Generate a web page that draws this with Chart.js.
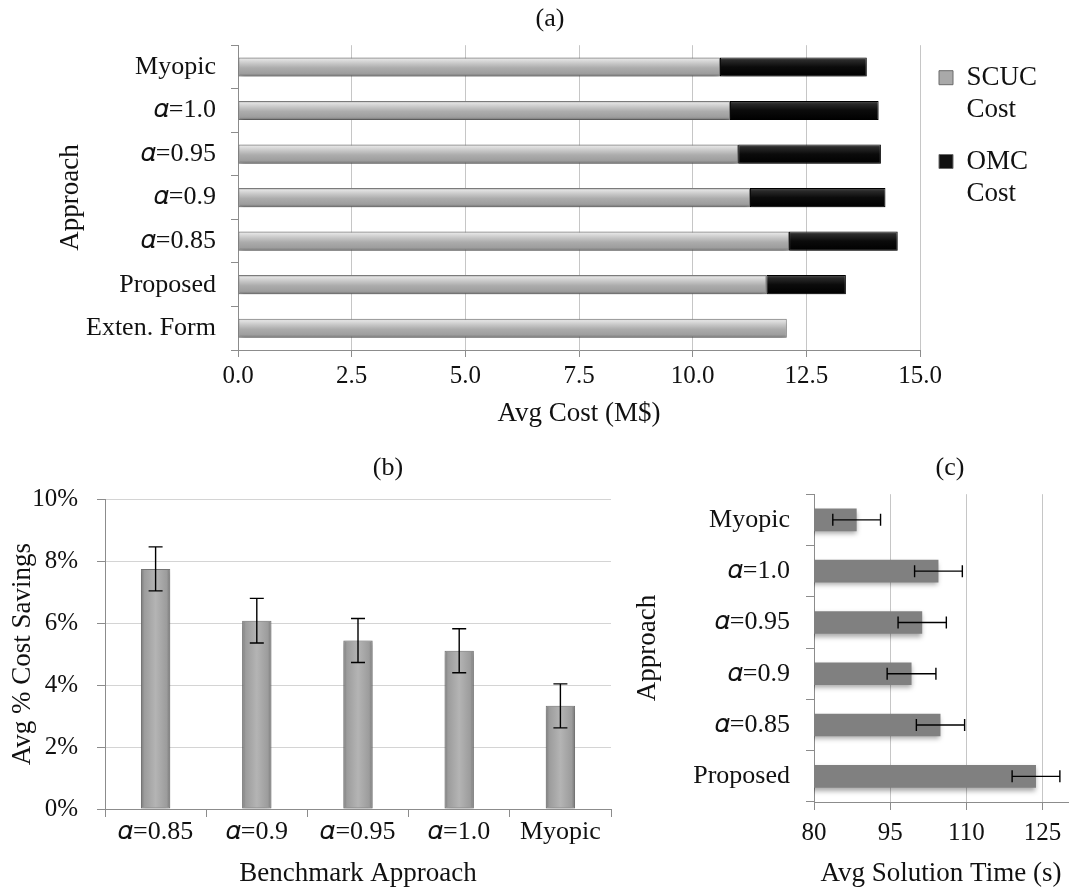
<!DOCTYPE html>
<html><head><meta charset="utf-8">
<script src="https://cdn.jsdelivr.net/npm/chart.js@4.4.1/dist/chart.umd.min.js"></script>
<style>
html,body{margin:0;padding:0;background:#fff;}
body{width:1073px;height:890px;position:relative;overflow:hidden;}
canvas{position:absolute;display:block;}
#ca{left:0;top:0;}
#cb{left:0;top:440px;}
#cc{left:620px;top:440px;}
</style></head><body>
<canvas id="ca" width="1073" height="440"></canvas>
<canvas id="cb" width="620" height="450"></canvas>
<canvas id="cc" width="453" height="450"></canvas>
<script>
// ---------- data ----------
const costCategories = ['Myopic', '𝛼=1.0', '𝛼=0.95', '𝛼=0.9', '𝛼=0.85', 'Proposed', 'Exten. Form'];
const scucCost = [10.6, 10.82, 11.0, 11.26, 12.12, 11.62, 12.07];
const omcCost  = [3.23, 3.27, 3.14, 2.98, 2.39, 1.75, 0];
const costSeriesNames = ['SCUC Cost', 'OMC Cost'];

const savingsCategories = ['𝛼=0.85', '𝛼=0.9', '𝛼=0.95', '𝛼=1.0', 'Myopic'];
const savingsPct = [7.75, 6.08, 5.44, 5.11, 3.33];
const savingsErr = [0.71, 0.72, 0.71, 0.71, 0.71];

const timeCategories = ['Myopic', '𝛼=1.0', '𝛼=0.95', '𝛼=0.9', '𝛼=0.85', 'Proposed'];
const solveTime = [88.4, 104.5, 101.3, 99.2, 104.9, 123.7];
const solveTimeErr = [4.7, 4.7, 4.75, 4.8, 4.75, 4.7];
const timeTicks = [80, 95, 110, 125];

// ---------- style ----------
const FONT = "'Liberation Serif', 'Times New Roman', 'DejaVu Serif', serif";
Chart.defaults.font.family = FONT;
Chart.defaults.font.size = 25;
Chart.defaults.color = '#111';
const AXIS = '#8c8c8c';
const GRID = '#c6c6c6';
const CAT_FONT = { size: 26 };
const NUM_FONT = { size: 25 };
const AX_TITLE_FONT = { size: 27 };
const PLOT_TITLE_FONT = { size: 26, weight: 'normal' };
const LEGEND_WIDTH = 153;

function shadowPlugin(blur, offY, color) {
  return {
    id: 'barShadow',
    beforeDatasetsDraw(chart) {
      const c = chart.ctx; c.save();
      c.shadowColor = color; c.shadowBlur = blur; c.shadowOffsetX = 0; c.shadowOffsetY = offY;
    },
    afterDatasetsDraw(chart) { chart.ctx.restore(); }
  };
}
function titleShiftPlugin(dx) {
  return {
    id: 'titleShift',
    afterLayout(chart) {
      const t = chart.titleBlock, ca = chart.chartArea;
      if (!t || !ca) return;
      const w = t.right - t.left;
      const c = (ca.left + ca.right) / 2 + dx;
      t.left = c - w / 2; t.right = c + w / 2;
    }
  };
}
const legendWidthPlugin = {
  id: 'legendWidth',
  beforeLayout(chart) {
    const lg = chart.legend;
    if (lg && !lg._wPatched) {
      const orig = lg.fit.bind(lg);
      lg.fit = function () { orig(); this.width = Math.max(this.width, LEGEND_WIDTH); };
      lg._wPatched = true;
    }
  }
};
function errorBarPlugin(values, errors, horizontal, cap) {
  return {
    id: 'errorBars',
    afterDatasetsDraw(chart) {
      const c = chart.ctx;
      const cat = horizontal ? chart.scales.y : chart.scales.x;
      const val = horizontal ? chart.scales.x : chart.scales.y;
      c.save(); c.strokeStyle = '#000'; c.lineWidth = 1.4;
      values.forEach((v, i) => {
        const p = cat.getPixelForValue(i);
        const a = val.getPixelForValue(v - errors[i]);
        const b = val.getPixelForValue(v + errors[i]);
        c.beginPath();
        if (horizontal) {
          c.moveTo(a, p); c.lineTo(b, p);
          c.moveTo(a, p - cap); c.lineTo(a, p + cap);
          c.moveTo(b, p - cap); c.lineTo(b, p + cap);
        } else {
          c.moveTo(p, a); c.lineTo(p, b);
          c.moveTo(p - cap, a); c.lineTo(p + cap, a);
          c.moveTo(p - cap, b); c.lineTo(p + cap, b);
        }
        c.stroke();
      });
      c.restore();
    }
  };
}
function makeBandGradient(ctx, axisKey, frac, stops, vertical, fallback) {
  const chart = ctx.chart;
  const s = chart.scales[axisKey];
  if (ctx.type !== 'data' || !s || !chart.chartArea) return fallback;
  const p = s.getPixelForValue(ctx.dataIndex);
  const h = Math.abs(s.getPixelForValue(1) - s.getPixelForValue(0)) * frac;
  const g = vertical
    ? chart.ctx.createLinearGradient(0, p - h / 2, 0, p + h / 2)
    : chart.ctx.createLinearGradient(p - h / 2, 0, p + h / 2, 0);
  stops.forEach(st => g.addColorStop(st[0], st[1]));
  return g;
}
const GRAY_STOPS = [[0, '#8e8e8e'], [0.1, '#e2e2e2'], [0.3, '#c9c9c9'], [0.55, '#acacac'], [0.85, '#9d9d9d'], [1, '#6c6c6c']];
const BLACK_STOPS = [[0, '#555'], [0.15, '#2a2a2a'], [0.5, '#0b0b0b'], [1, '#000']];
const COL_STOPS = [[0, '#7a7a7a'], [0.12, '#9c9c9c'], [0.5, '#b4b4b4'], [0.88, '#9c9c9c'], [1, '#777']];
const A_FRAC = 0.44, B_FRAC = 0.29, C_FRAC = 0.44;

// ---------- chart (a) ----------
new Chart(document.getElementById('ca'), {
  type: 'bar',
  data: {
    labels: costCategories,
    datasets: [
      { label: costSeriesNames[0], data: scucCost,
        backgroundColor: c => makeBandGradient(c, 'y', A_FRAC, GRAY_STOPS, true, '#a8a8a8'),
        borderColor: '#7d7d7d', borderWidth: 1, borderSkipped: false,
        barPercentage: A_FRAC, categoryPercentage: 1 },
      { label: costSeriesNames[1], data: omcCost,
        backgroundColor: c => makeBandGradient(c, 'y', A_FRAC, BLACK_STOPS, true, '#111'),
        borderColor: '#000', borderWidth: 1, borderSkipped: false,
        barPercentage: A_FRAC, categoryPercentage: 1 }
    ]
  },
  options: {
    indexAxis: 'y', responsive: false, animation: false,
    layout: { padding: { left: 0, right: 0, top: 0, bottom: 0 } },
    plugins: {
      title: { display: true, text: '(a)', font: PLOT_TITLE_FONT, color: '#111', padding: { top: 4, bottom: 10 } },
      legend: {
        position: 'right', align: 'start', fullSize: false,
        labels: {
          font: { size: 27, lineHeight: 1.2 }, color: '#111', boxWidth: 14, boxHeight: 14, padding: 19,
          generateLabels(chart) {
            const fills = ['#a9a9a9', '#111'];
            return chart.data.datasets.map((ds, i) => ({
              text: ds.label.split(' '), fillStyle: fills[i], strokeStyle: '#6a6a6a', lineWidth: 1,
              hidden: false, datasetIndex: i, fontColor: '#111'
            }));
          }
        }
      },
      tooltip: { enabled: false }
    },
    scales: {
      x: {
        stacked: true, min: 0, max: 15,
        ticks: { stepSize: 2.5, callback: v => v.toFixed(1), padding: 4, color: '#111', font: NUM_FONT },
        grid: { color: GRID, tickColor: AXIS, tickLength: 7 },
        border: { color: AXIS },
        title: { display: true, text: 'Avg Cost (M$)', font: AX_TITLE_FONT, padding: { top: 0, bottom: 10 }, color: '#111' },
        afterFit(s) { s.height = 90; }
      },
      y: {
        stacked: true,
        ticks: { padding: 15, color: '#111', font: CAT_FONT },
        grid: { drawOnChartArea: false, offset: true, tickColor: AXIS, tickLength: 7 },
        border: { color: AXIS },
        title: { display: true, text: 'Approach', font: AX_TITLE_FONT, padding: { top: 55, bottom: 0 }, color: '#111' },
        afterFit(s) { s.width = 238; }
      }
    }
  },
  plugins: [legendWidthPlugin, shadowPlugin(5, 3, 'rgba(0,0,0,0.35)'), titleShiftPlugin(-29)]
});

// ---------- chart (b) ----------
new Chart(document.getElementById('cb'), {
  type: 'bar',
  data: {
    labels: savingsCategories,
    datasets: [{
      label: 'Avg % Cost Savings', data: savingsPct,
      backgroundColor: c => makeBandGradient(c, 'x', B_FRAC, COL_STOPS, false, '#a8a8a8'),
      borderColor: '#777', borderWidth: 1, borderSkipped: false,
      barPercentage: B_FRAC, categoryPercentage: 1
    }]
  },
  options: {
    responsive: false, animation: false,
    layout: { padding: { left: 0, right: 9, top: 0, bottom: 0 } },
    plugins: {
      title: { display: true, text: '(b)', fullSize: false, font: PLOT_TITLE_FONT, color: '#111', padding: { top: 13, bottom: 15 } },
      legend: { display: false },
      tooltip: { enabled: false }
    },
    scales: {
      x: {
        ticks: { padding: 0, color: '#111', font: CAT_FONT },
        grid: { drawOnChartArea: false, offset: true, tickColor: AXIS, tickLength: 8 },
        border: { color: AXIS },
        title: { display: true, text: 'Benchmark Approach', font: AX_TITLE_FONT, padding: { top: 0, bottom: 0 }, color: '#111' },
        afterFit(s) { s.height = 81; }
      },
      y: {
        min: 0, max: 10,
        ticks: { stepSize: 2, callback: v => v + '%', padding: 19, color: '#111', font: NUM_FONT },
        grid: { color: '#d4d4d4', tickColor: AXIS, tickLength: 8 },
        border: { color: AXIS },
        title: { display: true, text: 'Avg % Cost Savings', font: AX_TITLE_FONT, padding: { top: 7, bottom: 0 }, color: '#111' },
        afterFit(s) { s.width = 105; }
      }
    }
  },
  plugins: [shadowPlugin(5, 2, 'rgba(0,0,0,0.3)'), errorBarPlugin(savingsPct, savingsErr, false, 7), titleShiftPlugin(30)]
});

// ---------- chart (c) ----------
new Chart(document.getElementById('cc'), {
  type: 'bar',
  data: {
    labels: timeCategories,
    datasets: [{
      label: 'Avg Solution Time (s)', data: solveTime,
      backgroundColor: '#808080', borderWidth: 0,
      barPercentage: C_FRAC, categoryPercentage: 1
    }]
  },
  options: {
    indexAxis: 'y', responsive: false, animation: false,
    layout: { padding: { left: 0, right: 5, top: 0, bottom: 0 } },
    plugins: {
      title: { display: true, text: '(c)', fullSize: false, font: PLOT_TITLE_FONT, color: '#111', padding: { top: 13, bottom: 10 } },
      legend: { display: false },
      tooltip: { enabled: false }
    },
    scales: {
      x: {
        min: 80, max: 130,
        ticks: { padding: 8, color: '#111', font: NUM_FONT },
        afterBuildTicks(s) { s.ticks = timeTicks.map(v => ({ value: v })); },
        grid: { color: GRID, tickColor: AXIS, tickLength: 8 },
        border: { color: AXIS },
        title: { display: true, text: 'Avg Solution Time (s)', font: AX_TITLE_FONT, padding: { top: 0, bottom: 0 }, color: '#111' },
        afterFit(s) { s.height = 88; }
      },
      y: {
        ticks: { padding: 16, color: '#111', font: CAT_FONT },
        grid: { drawOnChartArea: false, offset: true, tickColor: AXIS, tickLength: 8 },
        border: { color: AXIS },
        title: { display: true, text: 'Approach', font: AX_TITLE_FONT, padding: { top: 12, bottom: 0 }, color: '#111' },
        afterFit(s) { s.width = 194; }
      }
    }
  },
  plugins: [shadowPlugin(5, 3, 'rgba(0,0,0,0.35)'), errorBarPlugin(solveTime, solveTimeErr, true, 6), titleShiftPlugin(9)]
});
</script>
</body></html>
